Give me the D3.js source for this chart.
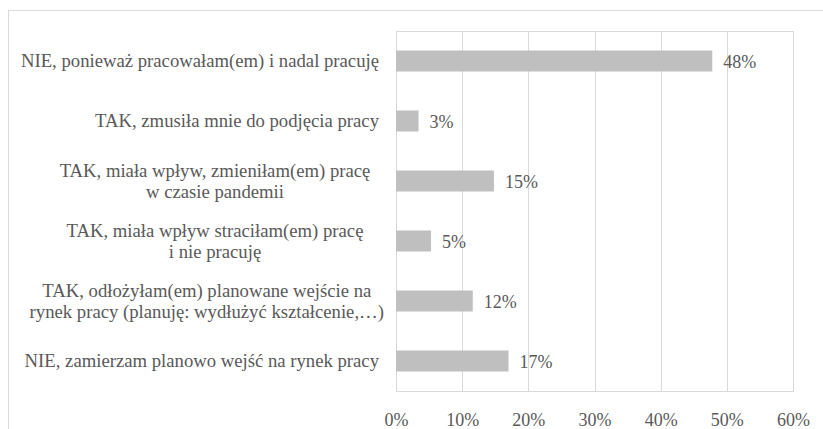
<!DOCTYPE html>
<html>
<head>
<meta charset="utf-8">
<script src="https://cdn.jsdelivr.net/npm/d3@7"></script>
<style>
  html, body { margin: 0; padding: 0; background: #fff; }
  svg text { font-family: "Liberation Serif", "Times New Roman", serif; }
</style>
</head>
<body>
<div id="chart"></div>
<script>
// Data
const categories = [
  ['NIE, ponieważ pracowałam(em) i nadal pracuję'],
  ['TAK, zmusiła mnie do podjęcia pracy'],
  ['TAK, miała wpływ, zmieniłam(em) pracę', 'w czasie pandemii'],
  ['TAK, miała wpływ straciłam(em) pracę', 'i nie pracuję'],
  ['TAK, odłożyłam(em) planowane wejście na', 'rynek pracy (planuję: wydłużyć kształcenie,…)'],
  ['NIE, zamierzam planowo wejść na rynek pracy'],
];
const values = [0.478, 0.034, 0.148, 0.053, 0.116, 0.170];
const xTicks = [0, 0.1, 0.2, 0.3, 0.4, 0.5, 0.6];

const width = 823;
const height = 429;
const margin = { top: 31, right: 30, bottom: 38, left: 396 };
const plotW = 793 - margin.left;
const plotH = height - margin.top - margin.bottom;

const textFill = '#595959';
const gridStroke = '#d9d9d9';
const barFill = '#bfbfbf';
const font = '"Liberation Serif", "Times New Roman", serif';
const fontSize = 18;
const catFontSize = 18.7;

const data = categories.map((lines, i) => ({ id: i, lines, value: values[i] }));

const x = d3.scaleLinear().domain([0, 0.6]).range([0, plotW]);
const y = d3
  .scaleBand()
  .domain(data.map(d => d.id))
  .range([0, plotH])
  .paddingInner(0.65)
  .paddingOuter(0.325);

const svg = d3
  .select('#chart')
  .append('svg')
  .attr('width', width)
  .attr('height', height)
  .style('font-family', font);

// outer chart border (cut off on right and bottom)
svg
  .append('rect')
  .attr('x', 8.5)
  .attr('y', 10.5)
  .attr('width', width)
  .attr('height', height)
  .attr('fill', 'none')
  .attr('stroke', gridStroke);

const g = svg.append('g').attr('transform', `translate(${margin.left}, ${margin.top})`);

// gridlines
const gridG = g
  .append('g')
  .attr('transform', `translate(0, ${plotH})`)
  .call(d3.axisBottom(x).tickValues(xTicks).tickSize(-plotH).tickFormat(''));
gridG.selectAll('path').remove();
gridG.selectAll('line').attr('stroke', gridStroke).attr('shape-rendering', 'crispEdges');

// plot border
g.append('rect')
  .attr('x', 0)
  .attr('y', 0)
  .attr('width', plotW)
  .attr('height', plotH)
  .attr('fill', 'none')
  .attr('stroke', gridStroke)
  .attr('shape-rendering', 'crispEdges');

// x axis labels
const xG = g
  .append('g')
  .attr('transform', `translate(0, ${plotH})`)
  .call(d3.axisBottom(x).tickValues(xTicks).tickSize(0).tickPadding(22).tickFormat(d3.format('.0%')));
xG.select('.domain').remove();
xG.selectAll('text')
  .attr('fill', textFill)
  .style('font-size', `${fontSize}px`)
  .style('font-family', font);

// bars
g.selectAll('rect.bar')
  .data(data)
  .enter()
  .append('rect')
  .attr('class', 'bar')
  .attr('x', 0)
  .attr('y', d => y(d.id))
  .attr('width', d => x(d.value))
  .attr('height', y.bandwidth())
  .attr('fill', barFill);

// value labels
g.selectAll('text.value')
  .data(data)
  .enter()
  .append('text')
  .attr('class', 'value')
  .attr('x', d => x(d.value) + 11)
  .attr('y', d => y(d.id) + y.bandwidth() / 2 + 6.5)
  .attr('fill', textFill)
  .style('font-size', `${fontSize}px`)
  .style('font-family', font)
  .text(d => d3.format('.0%')(d.value));

// category labels
const lineH = 21;
const labelRight = -17;
const labelG = g
  .selectAll('g.cat')
  .data(data)
  .enter()
  .append('g')
  .attr('class', 'cat');

labelG.each(function drawLabel(d) {
  const el = d3.select(this);
  const cy = y(d.id) + y.bandwidth() / 2;
  const n = d.lines.length;
  const texts = el
    .selectAll('text')
    .data(d.lines)
    .enter()
    .append('text')
    .attr('fill', textFill)
    .style('font-size', `${catFontSize}px`)
    .style('font-family', font)
    .attr('y', (t, i) => cy + 6 + (i - (n - 1) / 2) * lineH)
    .text(t => t);
  if (n === 1) {
    texts.attr('x', labelRight).attr('text-anchor', 'end');
  } else {
    const maxW = d3.max(texts.nodes(), nd => nd.getComputedTextLength());
    const cx = Math.min(215 - margin.left, labelRight + 5 - maxW / 2);
    texts.attr('x', cx).attr('text-anchor', 'middle');
  }
});
</script>
</body>
</html>
